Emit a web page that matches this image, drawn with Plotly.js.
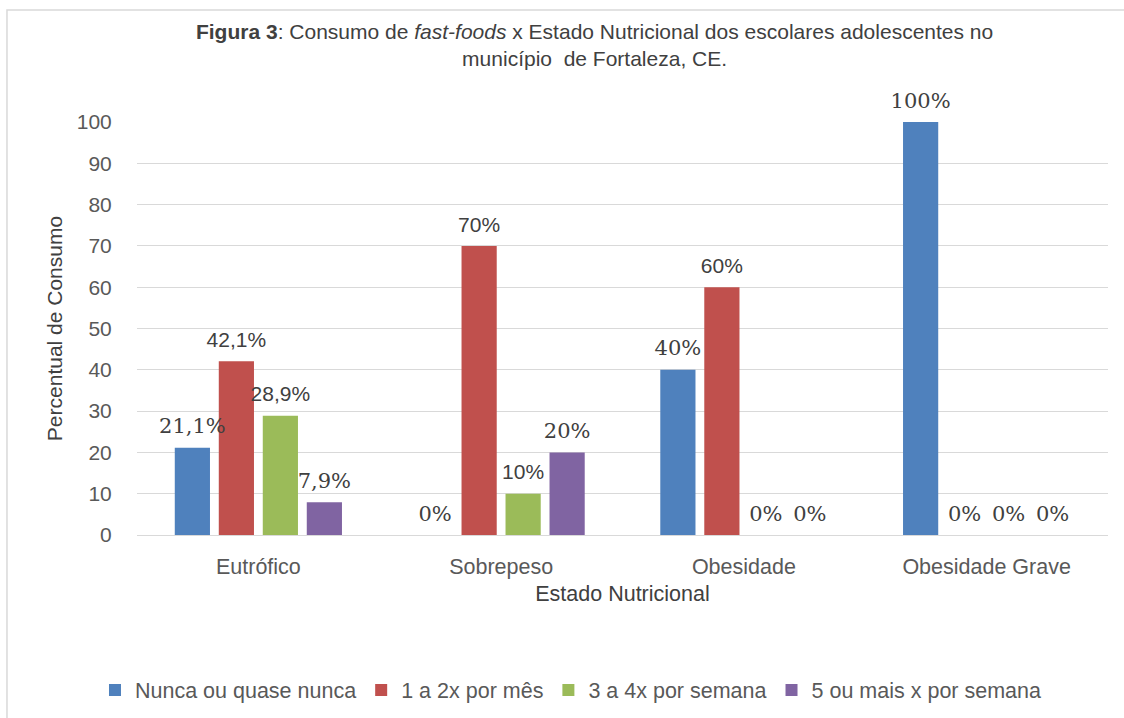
<!DOCTYPE html>
<html>
<head>
<meta charset="utf-8">
<script src="https://cdn.plot.ly/plotly-3.0.1.min.js"></script>
<style>
  html, body { margin: 0; padding: 0; background: #ffffff; }
  #chart { width: 1124px; height: 718px; }
</style>
</head>
<body>
<div id="chart"></div>
<script>
// ---- Data ----
const categories = ["Eutrófico", "Sobrepeso", "Obesidade", "Obesidade Grave"];
const seriesNames = ["Nunca ou quase nunca", "1 a 2x por mês", "3 a 4x por semana", "5 ou mais x por semana"];
const nunca      = [21.1, 0, 40, 100];
const umDois     = [42.1, 70, 60, 0];
const tresQuatro = [28.9, 10, 0, 0];
const cincoMais  = [7.9, 20, 0, 0];
const labelsNunca      = ["21,1%", "0%", "40%", "100%"];
const labelsUmDois     = ["42,1%", "70%", "60%", "0%"];
const labelsTresQuatro = ["28,9%", "10%", "0%", "0%"];
const labelsCincoMais  = ["7,9%", "20%", "0%", "0%"];
// label typeface used in the original for each label (s = serif, n = sans)
const styleNunca      = ["s", "s", "s", "s"];
const styleUmDois     = ["n", "n", "n", "s"];
const styleTresQuatro = ["n", "n", "s", "s"];
const styleCincoMais  = ["s", "s", "s", "s"];

const colors = ["#4f81bd", "#c0504d", "#9bbb59", "#8064a2"];
const SANS = "Liberation Sans, Arial, sans-serif";
const SERIF = "DejaVu Serif, serif";

const values = [nunca, umDois, tresQuatro, cincoMais];
const labels = [labelsNunca, labelsUmDois, labelsTresQuatro, labelsCincoMais];
const styles = [styleNunca, styleUmDois, styleTresQuatro, styleCincoMais];

const traces = [];
values.forEach((v, i) => {
  traces.push({
    type: "bar",
    name: seriesNames[i],
    x: categories,
    y: v,
    marker: { color: colors[i], line: { width: 0 } },
    hoverinfo: "skip",
    textposition: "none"
  });
});
values.forEach((v, i) => {
  traces.push({
    type: "scatter",
    mode: "markers+text",
    showlegend: false,
    x: categories,
    y: v,
    text: labels[i],
    textposition: "top center",
    marker: { size: 13, opacity: 0, color: colors[i] },
    textfont: {
      family: styles[i].map(s => s === "s" ? SERIF : SANS),
      size: 21,
      color: "#404040"
    },
    cliponaxis: false,
    hoverinfo: "skip"
  });
});

const layout = {
  width: 1124,
  height: 718,
  paper_bgcolor: "#ffffff",
  plot_bgcolor: "#ffffff",
  margin: { l: 137, r: 16, t: 122, b: 183 },
  barmode: "group",
  bargap: 0.275,
  bargroupgap: 0.2,
  scattermode: "group",
  scattergap: 0.275,
  font: { family: SANS, color: "#595959", size: 20 },
  title: {
    text: "<b>Figura 3</b>: Consumo de <i>fast-foods</i> x Estado Nutricional dos escolares adolescentes no<br>município  de Fortaleza, CE.",
    font: { family: SANS, size: 21, color: "#404040" },
    x: 0.529, xanchor: "center", xref: "container",
    y: 1 - 39 / 718, yanchor: "middle", yref: "container"
  },
  xaxis: {
    type: "category",
    showgrid: false,
    showline: true,
    linecolor: "#d9d9d9",
    linewidth: 1,
    ticks: "outside",
    ticklen: 12,
    tickcolor: "rgba(0,0,0,0)",
    tickfont: { family: SANS, size: 21.5, color: "#595959" },
    title: { text: "Estado Nutricional", font: { family: SANS, size: 21.5, color: "#404040" }, standoff: 8 },
    automargin: false
  },
  yaxis: {
    range: [0, 100],
    dtick: 10,
    showgrid: true,
    gridcolor: "#d9d9d9",
    gridwidth: 1,
    zeroline: false,
    showline: false,
    ticks: "outside",
    ticklen: 20,
    tickcolor: "rgba(0,0,0,0)",
    tickfont: { family: SANS, size: 21, color: "#595959" },
    title: { text: "Percentual de Consumo", font: { family: SANS, size: 21, color: "#404040" }, standoff: 8 },
    automargin: false
  },
  legend: {
    orientation: "h",
    xref: "container", yref: "container",
    x: 0.508, xanchor: "center",
    y: 1 - 690 / 718, yanchor: "middle",
    font: { family: SANS, size: 21.5, color: "#595959" },
    traceorder: "normal"
  },
  shapes: [{
    type: "rect", xref: "paper", yref: "paper",
    x0: -0.1339, x1: 1.05, y0: -0.5, y1: 1.2712,
    line: { color: "#d9d9d9", width: 1.5 },
    fillcolor: "rgba(0,0,0,0)",
    layer: "below"
  }],
  showlegend: true
};

Plotly.newPlot("chart", traces, layout, { displayModeBar: false, responsive: false });
</script>
</body>
</html>
